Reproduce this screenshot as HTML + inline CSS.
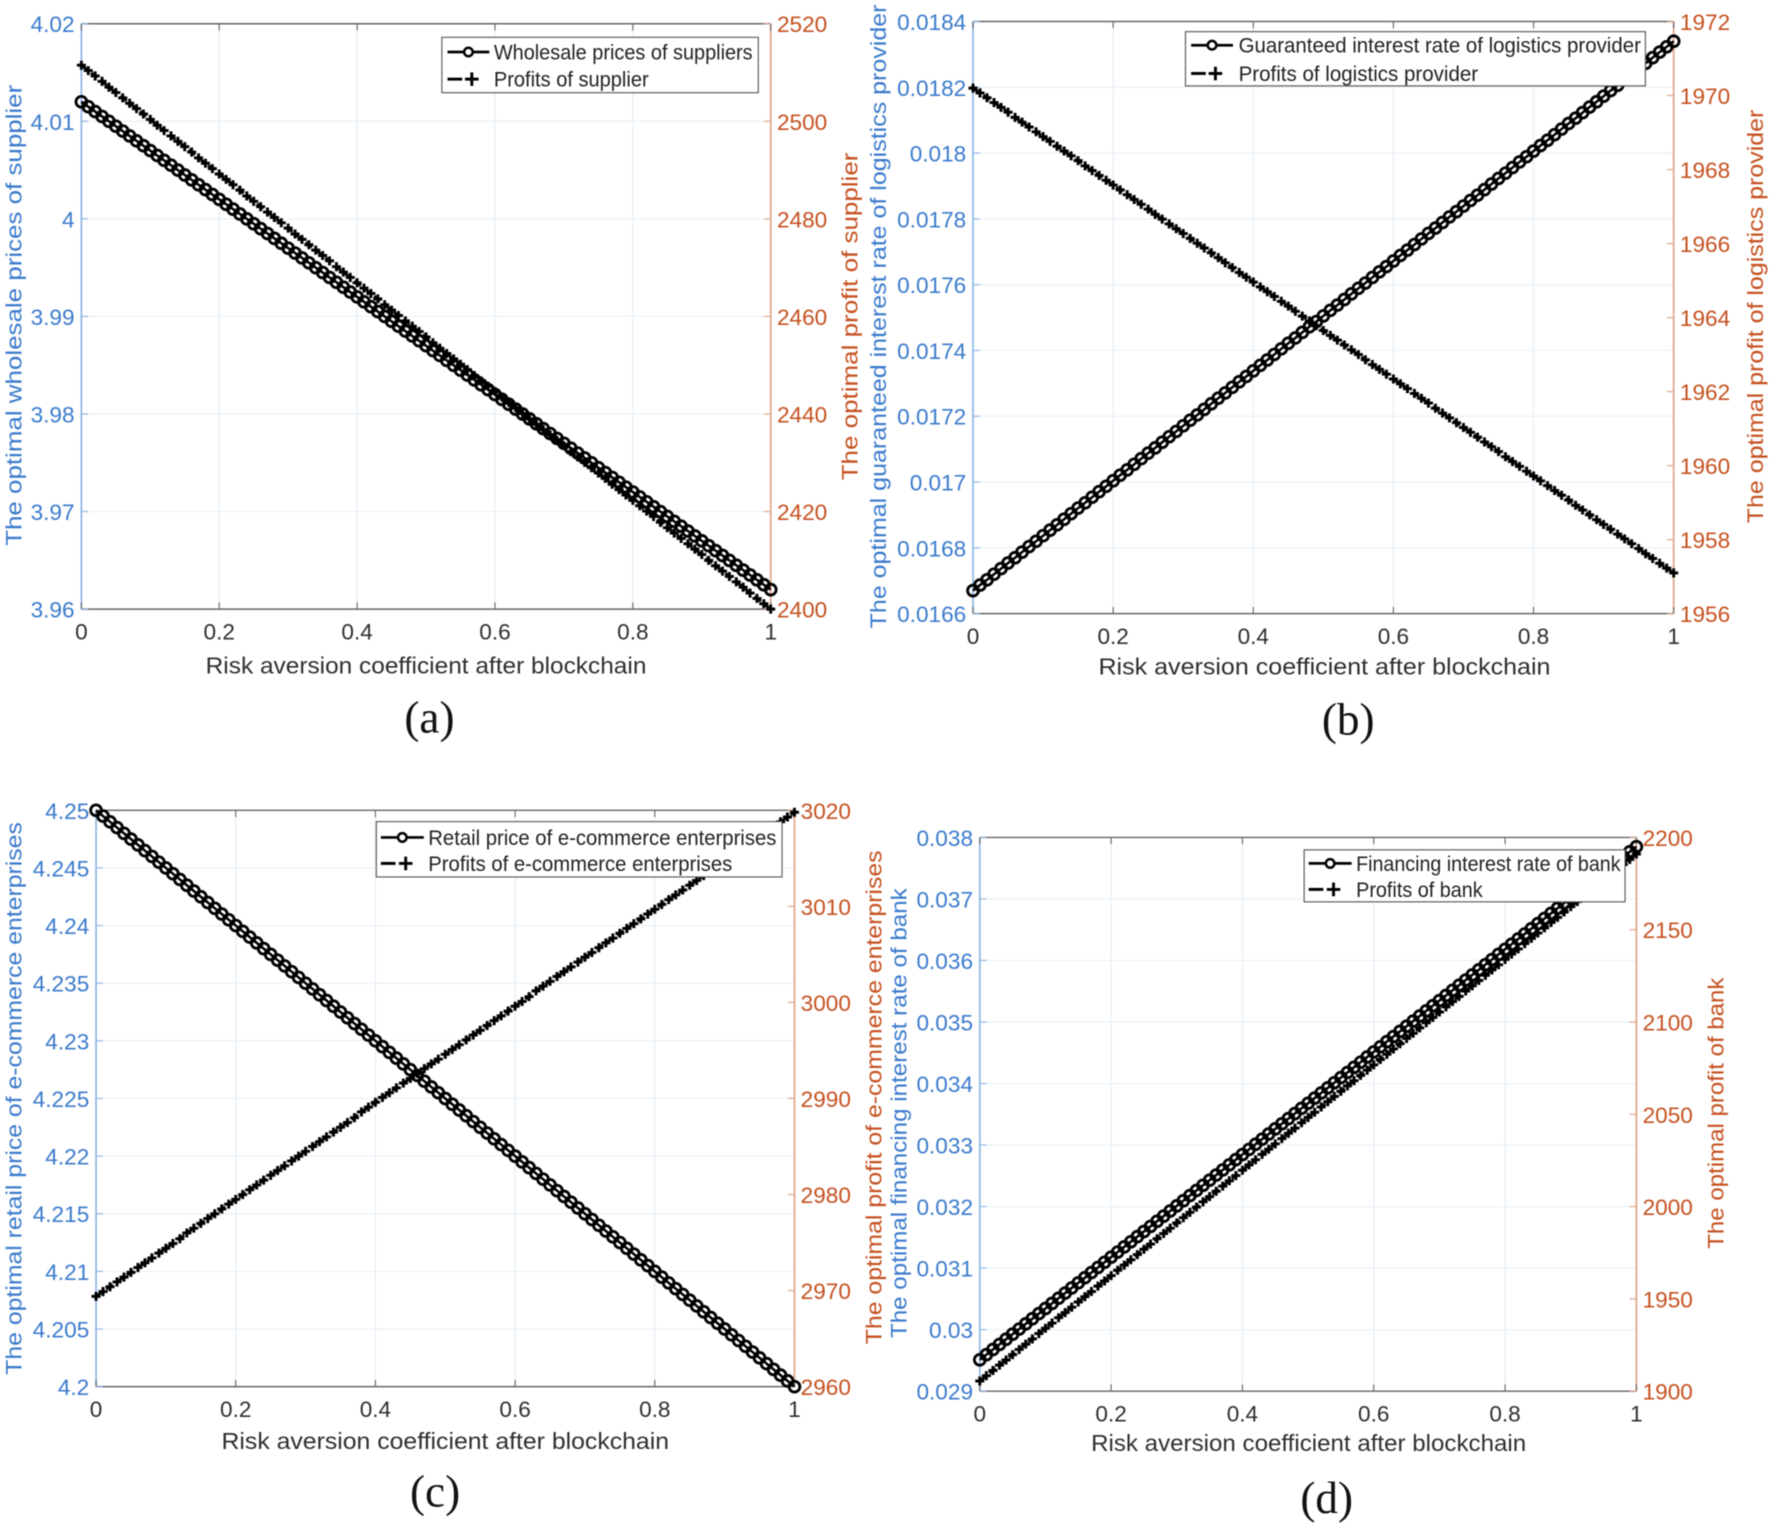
<!DOCTYPE html>
<html lang="en">
<head>
<meta charset="utf-8">
<title>Risk aversion coefficient charts</title>
<style>
html,body{margin:0;padding:0;background:#fff;width:1772px;height:1525px;overflow:hidden}
svg{display:block;filter:blur(0.5px)}
text{font-family:"Liberation Sans",sans-serif}
</style>
</head>
<body>
<svg id="figure" xmlns="http://www.w3.org/2000/svg" width="1772" height="1525" viewBox="0 0 1568 1349.4"></svg>
<script>
const xValues = [0,0.01,0.02,0.03,0.04,0.05,0.06,0.07,0.08,0.09,0.1,0.11,0.12,0.13,0.14,0.15,0.16,0.17,0.18,0.19,0.2,0.21,0.22,0.23,0.24,0.25,0.26,0.27,0.28,0.29,0.3,0.31,0.32,0.33,0.34,0.35,0.36,0.37,0.38,0.39,0.4,0.41,0.42,0.43,0.44,0.45,0.46,0.47,0.48,0.49,0.5,0.51,0.52,0.53,0.54,0.55,0.56,0.57,0.58,0.59,0.6,0.61,0.62,0.63,0.64,0.65,0.66,0.67,0.68,0.69,0.7,0.71,0.72,0.73,0.74,0.75,0.76,0.77,0.78,0.79,0.8,0.81,0.82,0.83,0.84,0.85,0.86,0.87,0.88,0.89,0.9,0.91,0.92,0.93,0.94,0.95,0.96,0.97,0.98,0.99,1];
const xTicks = [0,0.2,0.4,0.6,0.8,1];
const xTickLabels = ['0','0.2','0.4','0.6','0.8','1'];

const aLeftTicks = [3.96,3.97,3.98,3.99,4,4.01,4.02];
const aLeftLabels = ['3.96','3.97','3.98','3.99','4','4.01','4.02'];
const aRightTicks = [2400,2420,2440,2460,2480,2500,2520];
const aRightLabels = ['2400','2420','2440','2460','2480','2500','2520'];
const aWholesalePrice = [4.012,4.0115,4.011,4.0105,4.01,4.0095,4.009,4.0085,4.008,4.0075,4.007,4.0065,4.006,4.0055,4.005,4.0045,4.004,4.0035,4.003,4.0025,4.002,4.0015,4.001,4.0005,4,3.9995,3.999,3.9985,3.998,3.9975,3.997,3.9965,3.996,3.9955,3.995,3.9945,3.994,3.9935,3.993,3.9925,3.992,3.9915,3.991,3.9905,3.99,3.9895,3.989,3.9885,3.988,3.9875,3.987,3.9865,3.986,3.9855,3.985,3.9845,3.984,3.9835,3.983,3.9825,3.982,3.9815,3.981,3.9805,3.98,3.9795,3.979,3.9785,3.978,3.9775,3.977,3.9765,3.976,3.9755,3.975,3.9745,3.974,3.9735,3.973,3.9725,3.972,3.9715,3.971,3.9705,3.97,3.9695,3.969,3.9685,3.968,3.9675,3.967,3.9665,3.966,3.9655,3.965,3.9645,3.964,3.9635,3.963,3.9625,3.962];
const aSupplierProfit = [2511.5,2510.4,2509.3,2508.2,2507.0,2505.9,2504.8,2503.7,2502.6,2501.5,2500.4,2499.2,2498.1,2497.0,2495.9,2494.8,2493.7,2492.5,2491.4,2490.3,2489.2,2488.1,2487.0,2485.9,2484.7,2483.6,2482.5,2481.4,2480.3,2479.2,2478.1,2476.9,2475.8,2474.7,2473.6,2472.5,2471.4,2470.2,2469.1,2468.0,2466.9,2465.8,2464.7,2463.6,2462.4,2461.3,2460.2,2459.1,2458.0,2456.9,2455.8,2454.6,2453.5,2452.4,2451.3,2450.2,2449.1,2447.9,2446.8,2445.7,2444.6,2443.5,2442.4,2441.3,2440.1,2439.0,2437.9,2436.8,2435.7,2434.6,2433.5,2432.3,2431.2,2430.1,2429.0,2427.9,2426.8,2425.6,2424.5,2423.4,2422.3,2421.2,2420.1,2419.0,2417.8,2416.7,2415.6,2414.5,2413.4,2412.3,2411.2,2410.0,2408.9,2407.8,2406.7,2405.6,2404.5,2403.3,2402.2,2401.1,2400.0];

const bLeftTicks = [0.0166,0.0168,0.017,0.0172,0.0174,0.0176,0.0178,0.018,0.0182,0.0184];
const bLeftLabels = ['0.0166','0.0168','0.017','0.0172','0.0174','0.0176','0.0178','0.018','0.0182','0.0184'];
const bRightTicks = [1956,1958,1960,1962,1964,1966,1968,1970,1972];
const bRightLabels = ['1956','1958','1960','1962','1964','1966','1968','1970','1972'];
const bInterestRate = [0.01667,0.016687,0.016703,0.01672,0.016737,0.016754,0.01677,0.016787,0.016804,0.01682,0.016837,0.016854,0.01687,0.016887,0.016904,0.016921,0.016937,0.016954,0.016971,0.016987,0.017004,0.017021,0.017037,0.017054,0.017071,0.017088,0.017104,0.017121,0.017138,0.017154,0.017171,0.017188,0.017204,0.017221,0.017238,0.017255,0.017271,0.017288,0.017305,0.017321,0.017338,0.017355,0.017371,0.017388,0.017405,0.017422,0.017438,0.017455,0.017472,0.017488,0.017505,0.017522,0.017538,0.017555,0.017572,0.017589,0.017605,0.017622,0.017639,0.017655,0.017672,0.017689,0.017705,0.017722,0.017739,0.017756,0.017772,0.017789,0.017806,0.017822,0.017839,0.017856,0.017872,0.017889,0.017906,0.017923,0.017939,0.017956,0.017973,0.017989,0.018006,0.018023,0.018039,0.018056,0.018073,0.01809,0.018106,0.018123,0.01814,0.018156,0.018173,0.01819,0.018206,0.018223,0.01824,0.018257,0.018273,0.01829,0.018307,0.018323,0.01834];
const bProviderProfit = [1970.20,1970.07,1969.94,1969.81,1969.68,1969.55,1969.41,1969.28,1969.15,1969.02,1968.89,1968.76,1968.63,1968.50,1968.37,1968.24,1968.10,1967.97,1967.84,1967.71,1967.58,1967.45,1967.32,1967.19,1967.06,1966.93,1966.79,1966.66,1966.53,1966.40,1966.27,1966.14,1966.01,1965.88,1965.75,1965.62,1965.48,1965.35,1965.22,1965.09,1964.96,1964.83,1964.70,1964.57,1964.44,1964.31,1964.17,1964.04,1963.91,1963.78,1963.65,1963.52,1963.39,1963.26,1963.13,1963.00,1962.86,1962.73,1962.60,1962.47,1962.34,1962.21,1962.08,1961.95,1961.82,1961.69,1961.55,1961.42,1961.29,1961.16,1961.03,1960.90,1960.77,1960.64,1960.51,1960.38,1960.24,1960.11,1959.98,1959.85,1959.72,1959.59,1959.46,1959.33,1959.20,1959.07,1958.93,1958.80,1958.67,1958.54,1958.41,1958.28,1958.15,1958.02,1957.89,1957.76,1957.62,1957.49,1957.36,1957.23,1957.10];

const cLeftTicks = [4.2,4.205,4.21,4.215,4.22,4.225,4.23,4.235,4.24,4.245,4.25];
const cLeftLabels = ['4.2','4.205','4.21','4.215','4.22','4.225','4.23','4.235','4.24','4.245','4.25'];
const cRightTicks = [2960,2970,2980,2990,3000,3010,3020];
const cRightLabels = ['2960','2970','2980','2990','3000','3010','3020'];
const cRetailPrice = [4.25,4.2495,4.249,4.2485,4.248,4.2475,4.247,4.2465,4.246,4.2455,4.245,4.2445,4.244,4.2435,4.243,4.2425,4.242,4.2415,4.241,4.2405,4.24,4.2395,4.239,4.2385,4.238,4.2375,4.237,4.2365,4.236,4.2355,4.235,4.2345,4.234,4.2335,4.233,4.2325,4.232,4.2315,4.231,4.2305,4.23,4.2295,4.229,4.2285,4.228,4.2275,4.227,4.2265,4.226,4.2255,4.225,4.2245,4.224,4.2235,4.223,4.2225,4.222,4.2215,4.221,4.2205,4.22,4.2195,4.219,4.2185,4.218,4.2175,4.217,4.2165,4.216,4.2155,4.215,4.2145,4.214,4.2135,4.213,4.2125,4.212,4.2115,4.211,4.2105,4.21,4.2095,4.209,4.2085,4.208,4.2075,4.207,4.2065,4.206,4.2055,4.205,4.2045,4.204,4.2035,4.203,4.2025,4.202,4.2015,4.201,4.2005,4.2];
const cEcommerceProfit = [2969.4,2969.9,2970.4,2970.9,2971.4,2971.9,2972.4,2972.9,2973.4,2973.9,2974.4,2974.9,2975.4,2976.0,2976.5,2977.0,2977.5,2978.0,2978.5,2979.0,2979.5,2980.0,2980.5,2981.0,2981.5,2982.0,2982.5,2983.0,2983.5,2984.0,2984.5,2985.0,2985.5,2986.0,2986.5,2987.0,2987.5,2988.0,2988.6,2989.1,2989.6,2990.1,2990.6,2991.1,2991.6,2992.1,2992.6,2993.1,2993.6,2994.1,2994.6,2995.1,2995.6,2996.1,2996.6,2997.1,2997.6,2998.1,2998.6,2999.1,2999.6,3000.1,3000.6,3001.2,3001.7,3002.2,3002.7,3003.2,3003.7,3004.2,3004.7,3005.2,3005.7,3006.2,3006.7,3007.2,3007.7,3008.2,3008.7,3009.2,3009.7,3010.2,3010.7,3011.2,3011.7,3012.2,3012.7,3013.2,3013.8,3014.3,3014.8,3015.3,3015.8,3016.3,3016.8,3017.3,3017.8,3018.3,3018.8,3019.3,3019.8];

const dLeftTicks = [0.029,0.03,0.031,0.032,0.033,0.034,0.035,0.036,0.037,0.038];
const dLeftLabels = ['0.029','0.03','0.031','0.032','0.033','0.034','0.035','0.036','0.037','0.038'];
const dRightTicks = [1900,1950,2000,2050,2100,2150,2200];
const dRightLabels = ['1900','1950','2000','2050','2100','2150','2200'];
const dFinancingRate = [0.02951,0.029593,0.029677,0.02976,0.029844,0.029927,0.03001,0.030094,0.030177,0.030261,0.030344,0.030427,0.030511,0.030594,0.030678,0.030761,0.030844,0.030928,0.031011,0.031095,0.031178,0.031261,0.031345,0.031428,0.031512,0.031595,0.031678,0.031762,0.031845,0.031929,0.032012,0.032095,0.032179,0.032262,0.032346,0.032429,0.032512,0.032596,0.032679,0.032763,0.032846,0.032929,0.033013,0.033096,0.03318,0.033263,0.033346,0.03343,0.033513,0.033597,0.03368,0.033763,0.033847,0.03393,0.034014,0.034097,0.03418,0.034264,0.034347,0.034431,0.034514,0.034597,0.034681,0.034764,0.034848,0.034931,0.035014,0.035098,0.035181,0.035265,0.035348,0.035431,0.035515,0.035598,0.035682,0.035765,0.035848,0.035932,0.036015,0.036099,0.036182,0.036265,0.036349,0.036432,0.036516,0.036599,0.036682,0.036766,0.036849,0.036933,0.037016,0.037099,0.037183,0.037266,0.03735,0.037433,0.037516,0.0376,0.037683,0.037767,0.03785];
const dBankProfit = [1905.5,1908.4,1911.2,1914.1,1916.9,1919.8,1922.6,1925.5,1928.3,1931.2,1934.1,1936.9,1939.8,1942.6,1945.5,1948.3,1951.2,1954.0,1956.9,1959.7,1962.6,1965.5,1968.3,1971.2,1974.0,1976.9,1979.7,1982.6,1985.4,1988.3,1991.2,1994.0,1996.9,1999.7,2002.6,2005.4,2008.3,2011.1,2014.0,2016.8,2019.7,2022.6,2025.4,2028.3,2031.1,2034.0,2036.8,2039.7,2042.5,2045.4,2048.3,2051.1,2054.0,2056.8,2059.7,2062.5,2065.4,2068.2,2071.1,2073.9,2076.8,2079.7,2082.5,2085.4,2088.2,2091.1,2093.9,2096.8,2099.6,2102.5,2105.4,2108.2,2111.1,2113.9,2116.8,2119.6,2122.5,2125.3,2128.2,2131.0,2133.9,2136.8,2139.6,2142.5,2145.3,2148.2,2151.0,2153.9,2156.7,2159.6,2162.5,2165.3,2168.2,2171.0,2173.9,2176.7,2179.6,2182.4,2185.3,2188.1,2191.0];

const BLUE = '#3a7acc', ORANGE = '#c5501f', INK = '#2e2e2e';
const svg = document.getElementById('figure');
const NS = 'http://www.w3.org/2000/svg';

function make(parent, tag, props) {
  const node = document.createElementNS(NS, tag);
  for (const key in props) node.setAttribute(key, props[key]);
  parent.appendChild(node);
  return node;
}
function label(parent, txt, props) {
  const node = make(parent, 'text', props);
  node.textContent = txt;
  return node;
}

const panels = [
  { id:'a', box:{l:72,r:682,t:21,b:539},
    leftTicks:aLeftTicks, leftLabels:aLeftLabels, rightTicks:aRightTicks, rightLabels:aRightLabels,
    leftSeries:aWholesalePrice, rightSeries:aSupplierProfit,
    leftTitle:'The optimal wholesale prices of supplier', leftTitleBox:{x:12,c:279,len:408},
    rightTitle:'The optimal profit of supplier', rightTitleBox:{x:752,c:280,len:290},
    xTitle:{c:377,y:596,len:390}, tag:{txt:'(a)',x:380,y:648},
    legend:{l:391,r:671,t:33,b:82,r1:46,r2:70,lx:396,lxe:433,tx:437,names:['Wholesale prices of suppliers','Profits of supplier'],lens:[229,137]} },
  { id:'b', box:{l:861,r:1481,t:19,b:543},
    leftTicks:bLeftTicks, leftLabels:bLeftLabels, rightTicks:bRightTicks, rightLabels:bRightLabels,
    leftSeries:bInterestRate, rightSeries:bProviderProfit,
    leftTitle:'The optimal guaranteed interest rate of logistics provider', leftTitleBox:{x:777,c:280,len:552},
    rightTitle:'The optimal profit of logistics provider', rightTitleBox:{x:1553,c:280,len:366},
    xTitle:{c:1172,y:597,len:400}, tag:{txt:'(b)',x:1193,y:650},
    legend:{l:1049,r:1456,t:28,b:76,r1:40,r2:65,lx:1054,lxe:1091,tx:1096,names:['Guaranteed interest rate of logistics provider','Profits of logistics provider'],lens:[356,212]} },
  { id:'c', box:{l:85,r:703,t:717,b:1227},
    leftTicks:cLeftTicks, leftLabels:cLeftLabels, rightTicks:cRightTicks, rightLabels:cRightLabels,
    leftSeries:cRetailPrice, rightSeries:cEcommerceProfit,
    leftTitle:'The optimal retail price of e-commerce enterprises', leftTitleBox:{x:12,c:972,len:489},
    rightTitle:'The optimal profit of e-commerce enterprises', rightTitleBox:{x:773,c:971,len:437},
    xTitle:{c:394,y:1282,len:396}, tag:{txt:'(c)',x:385,y:1333},
    legend:{l:333,r:692,t:727,b:776,r1:741,r2:764,lx:337,lxe:375,tx:379,names:['Retail price of e-commerce enterprises','Profits of e-commerce enterprises'],lens:[308,269]} },
  { id:'d', box:{l:867,r:1448,t:741,b:1231},
    leftTicks:dLeftTicks, leftLabels:dLeftLabels, rightTicks:dRightTicks, rightLabels:dRightLabels,
    leftSeries:dFinancingRate, rightSeries:dBankProfit,
    leftTitle:'The optimal financing interest rate of bank', leftTitleBox:{x:795,c:985,len:398},
    rightTitle:'The optimal profit of bank', rightTitleBox:{x:1518,c:985,len:240},
    xTitle:{c:1158,y:1284,len:385}, tag:{txt:'(d)',x:1174,y:1339},
    legend:{l:1154,r:1438,t:752,b:798,r1:764,r2:787,lx:1158,lxe:1196,tx:1200,names:['Financing interest rate of bank','Profits of bank'],lens:[234,112]} }
];

function linearScale(dMin, dMax, rMin, rMax) {
  return v => rMin + (v - dMin) / (dMax - dMin) * (rMax - rMin);
}
function circleMarker(parent, cx, cy, r, sw) {
  const c = make(parent, 'circle', {cx:cx, cy:cy, r:r, fill:'none', stroke:'#000', 'stroke-width':sw});
  
  
  return c;
}
function plusMarker(parent, cx, cy, s, sw) {
  const p = make(parent, 'path', {d:'M' + (cx - s) + ' ' + cy + 'H' + (cx + s) + 'M' + cx + ' ' + (cy - s) + 'V' + (cy + s), fill:'none', stroke:'#000', 'stroke-width':sw});
  
  
  return p;
}

function drawPanel(p) {
  const b = p.box;
  const g = make(svg, 'g', {});
  
  

  const xScale = linearScale(xTicks[0], xTicks[xTicks.length - 1], b.l, b.r);
  const yLeft = linearScale(p.leftTicks[0], p.leftTicks[p.leftTicks.length - 1], b.b, b.t);
  const yRight = linearScale(p.rightTicks[0], p.rightTicks[p.rightTicks.length - 1], b.b, b.t);

  const grid = make(g, 'g', {stroke:'#e4ecf3', 'stroke-width':1});
  
  
  xTicks.forEach(v => {
    const x = xScale(v);
    make(grid, 'line', {x1:x, x2:x, y1:b.t, y2:b.b});
  });
  p.leftTicks.forEach(v => {
    const y = yLeft(v);
    make(grid, 'line', {x1:b.l, x2:b.r, y1:y, y2:y, stroke:'#e6f0f8'});
  });

  const topAxis = make(g, 'line', {x1:b.l, x2:b.r, y1:b.t, y2:b.t, stroke:'#666', 'stroke-width':1.3});
  
  
  const bottomAxis = make(g, 'line', {x1:b.l, x2:b.r, y1:b.b, y2:b.b, stroke:'#666', 'stroke-width':1.3});
  
  
  const leftAxis = make(g, 'line', {x1:b.l, x2:b.l, y1:b.t, y2:b.b, stroke:'#8db5e4', 'stroke-width':1.5});
  
  
  const rightAxis = make(g, 'line', {x1:b.r, x2:b.r, y1:b.t, y2:b.b, stroke:'#e0a488', 'stroke-width':1.5});
  
  

  xTicks.forEach((v, i) => {
    const x = xScale(v);
    make(g, 'line', {x1:x, x2:x, y1:b.b, y2:b.b - 6, stroke:'#666', 'stroke-width':1});
    make(g, 'line', {x1:x, x2:x, y1:b.t, y2:b.t + 6, stroke:'#666', 'stroke-width':1});
    const t = label(g, xTickLabels[i], {x:x, y:b.b + 27, 'text-anchor':'middle', 'font-size':20, fill:INK});
    
    
  });
  p.leftTicks.forEach((v, i) => {
    const y = yLeft(v);
    make(g, 'line', {x1:b.l, x2:b.l + 6, y1:y, y2:y, stroke:'#8db5e4', 'stroke-width':1});
    const t = label(g, p.leftLabels[i], {x:b.l - 6, y:y + 7.5, 'text-anchor':'end', 'font-size':20, fill:BLUE});
    
    
  });
  p.rightTicks.forEach((v, i) => {
    const y = yRight(v);
    make(g, 'line', {x1:b.r, x2:b.r - 6, y1:y, y2:y, stroke:'#e0a488', 'stroke-width':1});
    const t = label(g, p.rightLabels[i], {x:b.r + 5.5, y:y + 7.5, 'text-anchor':'start', 'font-size':20, fill:ORANGE});
    
    
  });

  const lt = p.leftTitleBox;
  const leftTitle = label(g, p.leftTitle, {x:0, y:0, transform:'translate(' + (lt.x + 7) + ' ' + lt.c + ') rotate(-90)', 'text-anchor':'middle', 'font-size':20, fill:BLUE, textLength:lt.len, lengthAdjust:'spacingAndGlyphs'});
  
  
  const rt = p.rightTitleBox;
  const rightTitle = label(g, p.rightTitle, {x:0, y:0, transform:'translate(' + (rt.x + 7) + ' ' + rt.c + ') rotate(-90)', 'text-anchor':'middle', 'font-size':20, fill:ORANGE, textLength:rt.len, lengthAdjust:'spacingAndGlyphs'});
  
  
  const xt = p.xTitle;
  const xTitle = label(g, 'Risk aversion coefficient after blockchain', {x:xt.c, y:xt.y, 'text-anchor':'middle', 'font-size':20.5, fill:INK, textLength:xt.len, lengthAdjust:'spacingAndGlyphs'});
  
  
  const tag = label(g, p.tag.txt, {x:p.tag.x, y:p.tag.y, 'text-anchor':'middle', 'font-size':40, fill:'#111', style:'font-family:"Liberation Serif",serif'});
  
  

  // left-axis series: solid line with circle markers
  const s1 = make(g, 'g', {});
  
  
  const s1Path = xValues.map((v, i) => (i ? 'L' : 'M') + xScale(v).toFixed(2) + ' ' + yLeft(p.leftSeries[i]).toFixed(2)).join('');
  const s1Line = make(s1, 'path', {d:s1Path, fill:'none', stroke:'#000', 'stroke-width':2.2});
  
  
  xValues.forEach((v, i) => circleMarker(s1, xScale(v), yLeft(p.leftSeries[i]), 4.8, 2.5));

  // right-axis series: dashed line with plus markers
  const s2 = make(g, 'g', {});
  
  
  const s2Path = xValues.map((v, i) => (i ? 'L' : 'M') + xScale(v).toFixed(2) + ' ' + yRight(p.rightSeries[i]).toFixed(2)).join('');
  const s2Line = make(s2, 'path', {d:s2Path, fill:'none', stroke:'#000', 'stroke-width':2.4, 'stroke-dasharray':'7 4'});
  
  
  xValues.forEach((v, i) => plusMarker(s2, xScale(v), yRight(p.rightSeries[i]), 4, 2.6));

  // legend
  const L = p.legend;
  const lg = make(g, 'g', {});
  
  
  const lgBox = make(lg, 'rect', {x:L.l, y:L.t, width:L.r - L.l, height:L.b - L.t, fill:'#fff', stroke:'#555', 'stroke-width':1});
  
  
  const e1 = make(lg, 'line', {x1:L.lx, x2:L.lxe, y1:L.r1, y2:L.r1, stroke:'#000', 'stroke-width':2.4});
  
  
  const mid = (L.lx + L.lxe) / 2;
  const lc = make(lg, 'circle', {cx:mid, cy:L.r1, r:3.8, fill:'#fff', stroke:'#000', 'stroke-width':2.2});
  
  
  const e2 = make(lg, 'line', {x1:L.lx, x2:L.lx + 13, y1:L.r2, y2:L.r2, stroke:'#000', 'stroke-width':2.6});
  
  
  plusMarker(lg, mid + 3, L.r2, 6, 2.6);
  const t1 = label(lg, L.names[0], {x:L.tx, y:L.r1 + 6.5, 'font-size':18.5, fill:'#222', textLength:L.lens[0], lengthAdjust:'spacingAndGlyphs'});
  
  
  const t2 = label(lg, L.names[1], {x:L.tx, y:L.r2 + 6.5, 'font-size':18.5, fill:'#222', textLength:L.lens[1], lengthAdjust:'spacingAndGlyphs'});
  
  
}

panels.forEach(drawPanel);
</script>
</body>
</html>
